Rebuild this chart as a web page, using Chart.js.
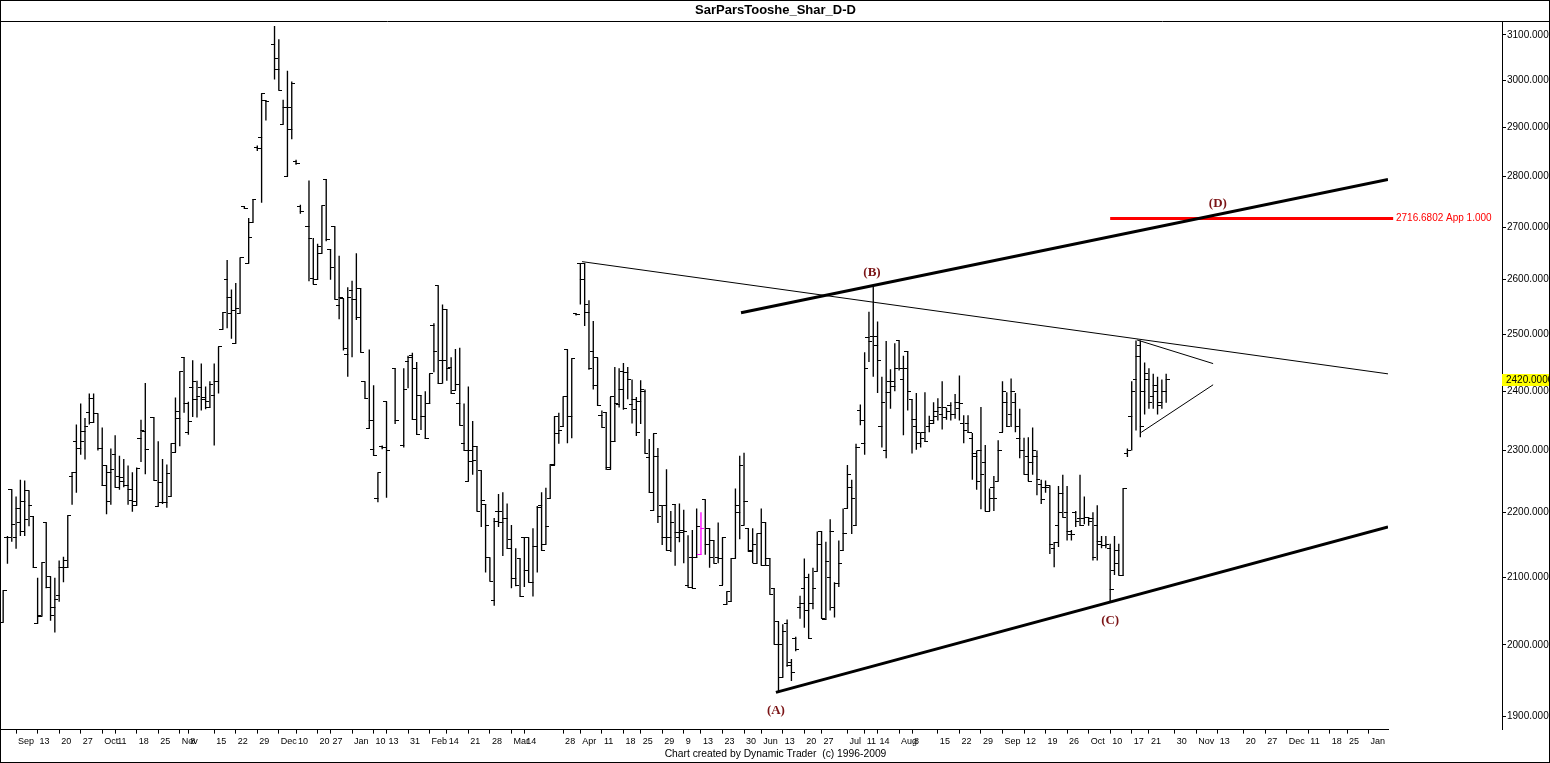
<!DOCTYPE html>
<html><head><meta charset="utf-8">
<script src="https://cdn.jsdelivr.net/npm/chart.js@4/dist/chart.umd.min.js"></script>
<style>html,body{margin:0;padding:0;background:#fff}canvas{display:block}</style>
</head><body>
<canvas id="c" width="1550" height="763"></canvas>
<script>
// ---- data (one entry per daily slot; null = no trading bar) ----
const opens = [
2033,2160,2236,2160,2184,2217,2234,2194,2031,2042,
2184,2101,2055,2073,2114,2114,2257,2315,2303,2332,
2363,2346,2361,2303,2275,2264,2294,2257,2250,2242,
2218,2211,2320,2332,null,2355,2209,2215,2216,2225,
2297,2354,2459,2330,2406,2386,2406,2389,2372,2392,
2416,2509,2600,2538,2484,2538,2741,2631,2709,2860,
2880,2958,null,3078,3024,2907,2800,2896,2830,2740,
null,2701,2602,2600,2650,2795,2658,2701,2552,2565,
2464,2580,2563,2584,2416,2336,2301,2222,2306,2382,
null,2440,null,2308,2451,2462,2440,2393,2356,2378,
2515,2589,2454,2545,2442,2401,2379,2312,2250,2281,
2307,2267,2213,2129,2065,2202,2184,2190,2158,2098,
2128,2161,2160,2092,2147,2210,2150,2222,2276,2328,
2339,2473,2356,2537,2631,2631,2540,2470,2458,2358,
2364,2269,2314,2377,2434,2432,2377,2368,2383,2400,
2288,2203,2290,2211,2211,2160,2213,2161,2172,2088,
2129,2129,2134,2220,2175,2156,2130,2088,2059,2063,
2128,2200,2180,2175,2140,2121,2166,2184,2128,2083,
2034,1954,2031,1975,2010,2055,2083,2050,2060,2109,
2170,2037,2100,2055,2090,2140,2206,2240,2179,2367,
2311,2495,2496,2480,2340,2300,2417,2408,2489,2420,
2470,2386,2340,2311,2330,2340,2350,2365,2360,2355,
2375,2360,2370,2345,2345,2320,2290,2300,2280,2202,
2240,2250,2330,2380,2360,2380,2319,2300,2290,2280,
2290,2245,2240,2242,2143,2179,2230,2200,2165,2200,
2190,2190,2192,2190,2180,2150,2148,2144,2110,2140,
2102,2295,2357,2420,2480,2400,2420,2390,2400,2380,2400];
const highs = [
2080,2163,2236,2225,2252,2251,2234,2194,2099,2122,
2184,2101,2099,2125,2131,2195,2264,2343,2379,2354,
2396,2396,2361,2338,2275,2303,2325,2291,2286,2275,
2264,2272,2351,2414,null,2355,2315,2286,2277,2311,
2389,2434,2459,2382,2454,2418,2448,2408,2417,2448,
2478,2540,2637,2582,2594,2641,2741,2718,2755,2863,
2972,2958,null,3120,3090,2959,3021,2998,2834,2744,
null,2792,2679,2668,2742,2795,2658,2701,2645,2565,
2586,2598,2650,2584,2416,2473,2410,2263,2308,2382,
null,2440,null,2440,2462,2467,2451,2393,2400,2430,
2520,2589,2554,2545,2459,2474,2476,2379,2408,2349,
2307,2267,2213,2129,2191,2229,2232,2214,2180,2144,
2128,2161,2160,2175,2210,2232,2239,2277,2357,2363,
2390,2473,2457,2538,2631,2631,2562,2524,2458,2367,
2364,2390,2442,2440,2449,2442,2420,2390,2419,2403,
2319,2328,2304,2211,2269,2202,2213,2214,2204,2164,
2172,2206,2200,2220,2175,2156,2184,2161,2078,2128,
2238,2291,2296,2175,2175,2166,2206,2184,2128,2083,
2034,2030,2037,1980,2012,2072,2128,2105,2114,2170,
2170,2154,2189,2092,2156,2206,2276,2252,2311,2377,
2468,2541,2588,2523,2425,2488,2438,2484,2489,2462,
2470,2386,2397,2330,2398,2358,2381,2388,2417,2372,
2381,2395,2427,2359,2359,2329,2300,2373,2309,2238,
2258,2317,2417,2398,2422,2397,2370,2321,2322,2338,
2300,2252,2251,2242,2153,2242,2260,2242,2172,2202,
2260,2225,2192,2200,2211,2163,2163,2151,2163,2151,
2238,2303,2417,2489,2489,2450,2440,2430,2425,2420,2430];
const lows = [
2033,2120,2154,2143,2163,2163,2178,2114,2031,2042,
2083,2035,2018,2063,2092,2114,2212,2231,2293,2285,
2343,2346,2300,2242,2197,2212,2240,2236,2240,2212,
2201,2211,2281,2261,null,2251,2209,2213,2207,2225,
2297,2307,2363,2326,2356,2355,2367,2369,2372,2308,
2396,2509,2511,2492,2484,2538,2736,2631,2709,2852,
2748,2915,null,3002,2979,2907,2800,2876,2824,2726,
null,2597,2592,2600,2650,2673,2600,2564,2527,2471,
2425,2459,2526,2468,2387,2336,2291,2216,2302,2223,
null,2344,null,2305,2405,2351,2326,2334,2319,2378,
2433,2413,2413,2418,2396,2401,2342,2300,2250,2260,
2202,2177,2107,2094,2057,2177,2132,2143,2083,2086,
2071,2085,2092,2071,2107,2140,2150,2222,2276,2311,
2339,2312,2320,2534,2554,2515,2437,2403,2375,2338,
2268,2269,2314,2372,2368,2386,2345,2324,2344,2295,
2231,2203,2183,2149,2140,2138,2117,2153,2121,2085,
2083,2129,2134,2134,2114,2121,2121,2088,2059,2063,
2128,2158,2180,2139,2121,2121,2118,2118,2074,2001,
1933,1954,1969,1949,1991,2038,2025,2009,2052,2109,
2038,2037,2050,2040,2085,2140,2206,2166,2179,2342,
2293,2451,2425,2397,2305,2287,2370,2400,2436,2325,
2367,2295,2301,2305,2314,2330,2344,2350,2335,2351,
2350,2353,2350,2312,2329,2252,2236,2205,2202,2202,
2202,2250,2330,2339,2339,2330,2287,2261,2250,2260,
2227,2213,2231,2135,2115,2146,2192,2156,2156,2177,
2179,2181,2179,2125,2125,2144,2144,2063,2103,2103,
2102,2289,2300,2333,2322,2360,2370,2370,2360,2370,2380];
const closes = [
2080,2161,2181,2206,2170,2189,2210,2114,2043,2122,
2084,2043,2067,2114,2125,2195,2264,2303,2315,2339,
2387,2361,2303,2242,2217,2269,2240,2256,2242,2236,
2217,2270,2333,2301,null,2251,2247,2215,2262,2311,
2366,2434,2379,2349,2417,2390,2386,2382,2412,2417,
2478,2540,2567,2543,2547,2641,2736,2681,2755,2858,
2972,2955,null,3048,2979,2943,2943,2994,2826,2730,
null,2679,2592,2663,2742,2677,2622,2564,2567,2474,
2567,2563,2530,2468,2387,2350,2291,2263,2305,2300,
null,2350,null,2403,2458,2351,2326,2356,2319,2430,
2470,2413,2454,2440,2396,2412,2342,2300,2300,2284,
2202,2218,2180,2094,2185,2202,2190,2143,2098,2087,
2071,2110,2092,2147,2208,2140,2177,2277,2357,2333,
2390,2356,2457,2535,2600,2554,2440,2410,2375,2338,
2272,2390,2378,2403,2370,2420,2386,2329,2403,2295,
2231,2328,2194,2160,2140,2184,2169,2169,2170,2085,
2083,2177,2175,2149,2130,2121,2128,2161,2078,2128,
2211,2276,2217,2139,2150,2166,2118,2118,2074,2001,
2000,2020,1971,1961,1994,2060,2100,2009,2083,2150,
2038,2123,2170,2090,2121,2166,2260,2222,2305,2350,
2440,2488,2496,2454,2380,2398,2417,2440,2439,2439,
2400,2351,2330,2320,2314,2345,2357,2372,2372,2365,
2360,2380,2378,2333,2329,2295,2250,2260,2202,2222,
2222,2300,2400,2339,2400,2340,2300,2261,2250,2300,
2252,2220,2240,2150,2153,2200,2192,2170,2165,2185,
2180,2192,2185,2130,2155,2148,2150,2082,2120,2103,
2238,2300,2400,2460,2340,2430,2380,2410,2375,2400,2420];

const SLOT_COUNT = 322;          // daily slots incl. empty future area
const highlightSlot = 162;       // bar drawn in magenta

const xTickSlots = [3,8,13,18,23,26,31,36,41,43,49,54,59,64,68,73,76,81,86,89,94,99,103,108,113,
  118,121,130,134,139,144,148,153,158,162,167,172,176,181,186,190,196,200,203,208,211,217,222,227,
  232,237,242,247,252,257,262,266,272,277,282,288,293,298,303,308,312,317];
const xTickLabels = ['Sep','13','20','27','Oct','11','18','25','Nov','8','15','22','29','Dec','10','20','27','Jan','10','13','31','Feb','14','21','28',
  'Mar','14','28','Apr','11','18','25','29','9','13','23','30','Jun','13','20','27','Jul','11','14','Aug','8','15','22','29',
  'Sep','12','19','26','Oct','10','17','21','30','Nov','13','20','27','Dec','11','18','25','Jan'];
const yTicks = [1900,2000,2100,2200,2300,2400,2500,2600,2700,2800,2900,3000,3100];

// trend lines (slot, price)
const channelLowX = [179.4, 321.5],  channelLowY = [1933, 2177];
const channelHighX = [171.3, 321.5], channelHighY = [2539, 2794];
const fanLineX = [134.4, 321.5],     fanLineY = [2634, 2430];
const triUpperX = [263.2, 280.9],    triUpperY = [2490, 2448];
const triLowerX = [264.2, 280.9],    triLowerY = [2330, 2411];
const targetPrice = 2716.6802;
const targetX = [257, 322.7];
const waveLabels = ['(A)','(B)','(C)','(D)'];
const waveX = [179.4, 201.7, 257, 282];
const waveY = [1908, 2613, 2036, 2746];
const lastClose = 2420;

// ---- rendering ----
Chart.defaults.font.family = '"Liberation Sans", Arial, sans-serif';
Chart.defaults.color = '#000';

function tickImg(side, color) {
  const c = document.createElement('canvas');
  c.width = 7; c.height = 1;
  const g = c.getContext('2d');
  g.fillStyle = color;
  if (side === 'left') g.fillRect(0, 0, 4, 1); else g.fillRect(3, 0, 4, 1);
  return c;
}
const openBlack = tickImg('left', '#000'), openMag = tickImg('left', '#ff00ff');
const closeBlack = tickImg('right', '#000'), closeMag = tickImg('right', '#ff00ff');

const pts = (xs, ys) => xs.map((x, i) => ({x, y: ys[i]}));
const lineDs = (data, w, color, extra) => Object.assign({
  type: 'line', data, borderColor: color, borderWidth: w, pointRadius: 0, pointHoverRadius: 0,
  fill: false, tension: 0
}, extra || {});

const decorations = {
  id: 'decorations',
  afterDatasetsDraw(chart) {
    const {ctx, chartArea, scales: {x, y}} = chart;
    ctx.save();
    ctx.font = 'bold 13px "Liberation Serif", serif';
    ctx.fillStyle = '#7b1416';
    ctx.textAlign = 'center'; ctx.textBaseline = 'middle';
    waveLabels.forEach((t, i) => ctx.fillText(t, x.getPixelForValue(waveX[i]), y.getPixelForValue(waveY[i])));
    ctx.font = '10px "Liberation Sans", sans-serif';
    ctx.fillStyle = '#ff0000';
    ctx.textAlign = 'left';
    ctx.fillText(targetPrice.toFixed(4) + ' App 1.000', chartArea.right + 8, y.getPixelForValue(targetPrice));
    ctx.restore();
  },
  afterDraw(chart) {
    const {ctx, chartArea, width, height, scales: {y}} = chart;
    ctx.save();
    const py = Math.round(y.getPixelForValue(lastClose));
    ctx.fillStyle = '#ffff00';
    ctx.fillRect(y.left, py - 6, width - y.left, 12);
    ctx.fillStyle = '#000';
    ctx.font = '10px "Liberation Sans", sans-serif';
    ctx.textAlign = 'left'; ctx.textBaseline = 'middle';
    ctx.fillText(lastClose.toFixed(4), y.left + 4, py);
    ctx.strokeStyle = '#000'; ctx.lineWidth = 1;
    ctx.strokeRect(0.5, 0.5, width - 1, height - 1);
    ctx.beginPath();
    const ty = Math.round(chartArea.top) + 0.5;
    ctx.moveTo(0, ty); ctx.lineTo(width, ty);
    ctx.stroke();
    ctx.restore();
  }
};

new Chart(document.getElementById('c'), {
  data: {
    datasets: [
      lineDs(pts(channelHighX, channelHighY), 3, '#000'),
      lineDs(pts(channelLowX, channelLowY), 3, '#000'),
      lineDs(pts(targetX, [targetPrice, targetPrice]), 3, '#ff0000', {clip: false}),
      lineDs(pts(fanLineX, fanLineY), 1, '#000'),
      lineDs(pts(triUpperX, triUpperY), 1, '#000'),
      lineDs(pts(triLowerX, triLowerY), 1, '#000'),
      {
        type: 'line', showLine: false, pointRadius: 2, pointHoverRadius: 0, pointBorderWidth: 0,
        data: opens.map((v, i) => ({x: i, y: v})),
        pointStyle: c => c.dataIndex === highlightSlot ? openMag : openBlack
      },
      {
        type: 'line', showLine: false, pointRadius: 2, pointHoverRadius: 0, pointBorderWidth: 0,
        data: closes.map((v, i) => ({x: i, y: v})),
        pointStyle: c => c.dataIndex === highlightSlot ? closeMag : closeBlack
      },
      {
        type: 'bar', grouped: false, barThickness: 1.35, inflateAmount: 0, borderWidth: 0,
        data: highs.map((h, i) => ({x: i, y: h == null ? null : [lows[i], h]})),
        backgroundColor: c => c.dataIndex === highlightSlot ? '#ff00ff' : '#000'
      }
    ]
  },
  options: {
    responsive: false, animation: false, events: [],
    layout: {autoPadding: false, padding: {left: 1, right: 0, top: 0, bottom: 0}},
    plugins: {
      legend: {display: false}, tooltip: {enabled: false},
      title: {display: true, text: 'SarParsTooshe_Shar_D-D', color: '#000',
        font: {size: 13, weight: 'bold'}, padding: {top: 3, bottom: 2.4}},
      subtitle: {display: true, position: 'bottom', text: 'Chart created by Dynamic Trader  (c) 1996-2009',
        color: '#000', font: {size: 10.3}, padding: {top: 0, bottom: 3}}
    },
    scales: {
      x: {
        type: 'linear', position: 'bottom', min: -0.5, max: SLOT_COUNT - 0.5, offset: false,
        afterBuildTicks: s => { s.ticks = xTickSlots.map(v => ({value: v})); },
        afterFit: s => { s.height = 18; s.paddingLeft = 0; s.paddingRight = 0; },
        ticks: {autoSkip: false, maxRotation: 0, minRotation: 0, align: 'start', labelOffset: 2, padding: 2,
          font: {size: 9}, color: '#000', callback: (v, i) => xTickLabels[i]},
        grid: {display: true, offset: false, drawOnChartArea: false, drawTicks: true, tickLength: 4, color: '#000'},
        border: {display: true, color: '#000', width: 1}
      },
      y: {
        type: 'logarithmic', position: 'right', weight: 10, min: 1882, max: 3131,
        afterBuildTicks: s => { s.ticks = yTicks.map(v => ({value: v})); },
        afterFit: s => { s.width = 48; },
        ticks: {padding: 1, font: {size: 10}, color: '#000', callback: v => Number(v).toFixed(4)},
        grid: {display: true, drawOnChartArea: false, drawTicks: true, tickLength: 4, color: '#000'},
        border: {display: true, color: '#000', width: 1}
      },
      spacer: {
        type: 'linear', position: 'right', weight: 0, display: true,
        afterFit: s => { s.width = 114; },
        ticks: {display: false}, grid: {display: false}, border: {display: false}
      }
    }
  },
  plugins: [decorations]
});
</script>
</body></html>
